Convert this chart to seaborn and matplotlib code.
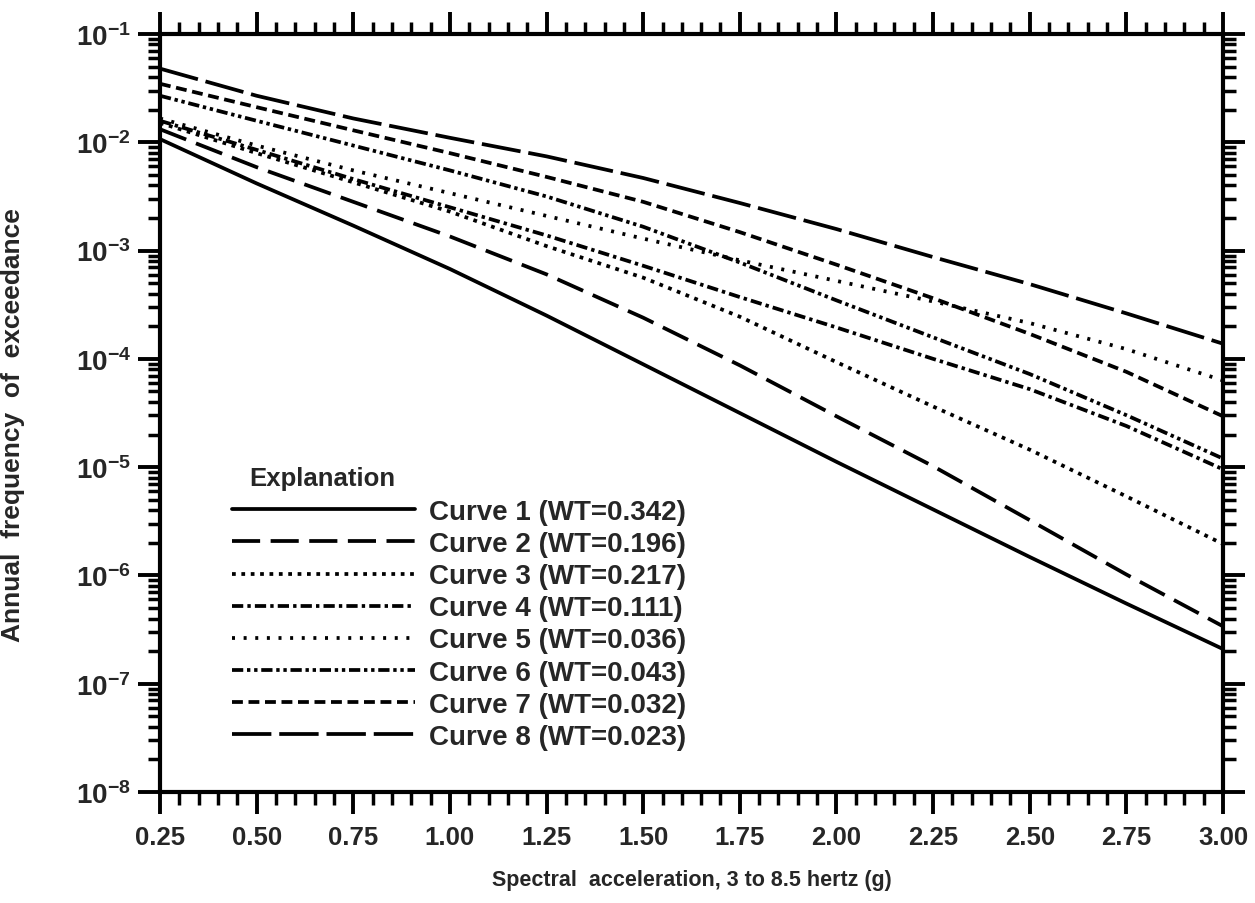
import numpy as np
import pandas as pd
import seaborn as sns
import matplotlib.pyplot as plt
from matplotlib.ticker import MultipleLocator, LogLocator, FuncFormatter, NullFormatter

# spectral acceleration (g)
accel = [0.25, 0.50, 0.75, 1.00, 1.25, 1.50, 1.75, 2.00, 2.25, 2.50, 2.75, 3.00]

# annual frequency of exceedance
curve1 = [1.07e-2, 4.17e-3, 1.70e-3, 6.76e-4, 2.51e-4, 8.91e-5, 3.16e-5, 1.12e-5, 4.07e-6, 1.48e-6, 5.50e-7, 2.09e-7]
curve2 = [1.32e-2, 5.89e-3, 2.82e-3, 1.35e-3, 6.03e-4, 2.40e-4, 8.71e-5, 2.95e-5, 1.02e-5, 3.24e-6, 1.02e-6, 3.39e-7]
curve3 = [1.51e-2, 7.94e-3, 4.27e-3, 2.29e-3, 1.10e-3, 5.62e-4, 2.45e-4, 9.33e-5, 3.63e-5, 1.45e-5, 5.37e-6, 1.95e-6]
curve4 = [1.58e-2, 8.51e-3, 4.57e-3, 2.51e-3, 1.38e-3, 7.24e-4, 3.72e-4, 1.95e-4, 1.00e-4, 5.25e-5, 2.40e-5, 9.55e-6]
curve5 = [1.66e-2, 9.33e-3, 5.50e-3, 3.39e-3, 2.09e-3, 1.29e-3, 8.13e-4, 5.25e-4, 3.39e-4, 2.14e-4, 1.23e-4, 6.31e-5]
curve6 = [2.69e-2, 1.58e-2, 9.33e-3, 5.50e-3, 3.16e-3, 1.66e-3, 7.76e-4, 3.47e-4, 1.58e-4, 7.24e-5, 3.02e-5, 1.20e-5]
curve7 = [3.47e-2, 2.11e-2, 1.29e-2, 7.94e-3, 4.79e-3, 2.82e-3, 1.48e-3, 7.41e-4, 3.63e-4, 1.70e-4, 7.59e-5, 2.95e-5]
curve8 = [4.79e-2, 2.69e-2, 1.66e-2, 1.10e-2, 7.41e-3, 4.68e-3, 2.75e-3, 1.58e-3, 8.71e-4, 4.90e-4, 2.63e-4, 1.38e-4]

curve_names = ["Curve 1", "Curve 2", "Curve 3", "Curve 4", "Curve 5", "Curve 6", "Curve 7", "Curve 8"]
weights = ["0.342", "0.196", "0.217", "0.111", "0.036", "0.043", "0.032", "0.023"]

x_ticks = [0.25, 0.50, 0.75, 1.00, 1.25, 1.50, 1.75, 2.00, 2.25, 2.50, 2.75, 3.00]
y_decades = [-8, -7, -6, -5, -4, -3, -2, -1]

# line patterns (in units of line width)
DASHES = {
    "Curve 1": "",
    "Curve 2": (7.5, 2.8),
    "Curve 3": (1.0, 1.5),
    "Curve 4": (3.0, 1.1, 0.9, 1.1),
    "Curve 5": (0.8, 2.3),
    "Curve 6": (3.0, 1.0, 0.9, 1.0, 0.9, 1.0),
    "Curve 7": (2.9, 1.5),
    "Curve 8": (10.5, 2.1),
}

all_curves = [curve1, curve2, curve3, curve4, curve5, curve6, curve7, curve8]
df = pd.concat(
    [pd.DataFrame({"accel": accel, "freq": vals, "curve": name}) for name, vals in zip(curve_names, all_curves)],
    ignore_index=True,
)

sns.set_theme(style="ticks")
plt.rcParams["font.family"] = ["Liberation Sans", "DejaVu Sans"]
plt.rcParams["mathtext.fontset"] = "custom"
plt.rcParams["mathtext.rm"] = "Liberation Sans"
plt.rcParams["mathtext.bf"] = "Liberation Sans:bold"

fig = plt.figure(figsize=(12.55, 9.04), dpi=100)
ax = fig.add_axes([160 / 1255, 1 - 793 / 904, (1223 - 160) / 1255, (793 - 35) / 904])

sns.lineplot(
    data=df, x="accel", y="freq", hue="curve", style="curve",
    palette=["black"] * len(curve_names), dashes=DASHES,
    linewidth=2.7, legend=False, ax=ax, sort=False,
)

ax.set_yscale("log")
ax.set_xlim(0.25, 3.00)
ax.set_ylim(1e-8, 1e-1)

ax.xaxis.set_major_locator(MultipleLocator(0.25))
ax.xaxis.set_minor_locator(MultipleLocator(0.05))
ax.xaxis.set_major_formatter(FuncFormatter(lambda v, p: f"{v:.2f}"))
ax.set_xticks(x_ticks)

ax.yaxis.set_major_locator(LogLocator(base=10, numticks=12))
ax.yaxis.set_minor_locator(LogLocator(base=10, subs=np.arange(2, 10), numticks=12))
ax.yaxis.set_minor_formatter(NullFormatter())
ax.set_yticks([10.0 ** d for d in y_decades])
ax.set_yticklabels([r"$\mathbf{10^{%d}}$" % d for d in y_decades])

for s in ax.spines.values():
    s.set_linewidth(3)
    s.set_color("black")

ax.tick_params(which="both", direction="out", top=True, right=True, color="black")
ax.tick_params(which="major", length=16, width=2.8)
ax.tick_params(which="minor", length=9, width=2.5)
ax.tick_params(axis="x", which="major", labelsize=18.5, pad=8)
ax.tick_params(axis="y", which="major", labelsize=20, pad=5)
for lab in ax.get_xticklabels():
    lab.set_fontweight("bold")

ax.set_xlabel("Spectral  acceleration, 3 to 8.5 hertz (g)", fontsize=15.5, fontweight="bold", labelpad=14)
ax.set_ylabel("Annual  frequency  of  exceedance", fontsize=19, fontweight="bold")
ax.yaxis.set_label_coords((25 - 160) / 1063, 1 - (425 - 35) / 758)

# legend ("Explanation")
handles = ax.get_lines()[: len(curve_names)]
labels = [f"{n} (WT={w})" for n, w in zip(curve_names, weights)]
ax.text((322 - 160) / 1063, 1 - (479 - 35) / 758, "Explanation", transform=ax.transAxes,
        ha="center", va="center", fontsize=18.5, fontweight="bold")
leg = ax.legend(
    handles, labels, loc="upper left", bbox_to_anchor=((232 - 160) / 1063, 1 - (500 - 35) / 758),
    frameon=False, borderpad=0, borderaxespad=0, handlelength=6.6, handletextpad=0.5,
    labelspacing=0.22, prop={"size": 20, "weight": "bold"},
)

fig.savefig("out.png", dpi=100, facecolor="white")
